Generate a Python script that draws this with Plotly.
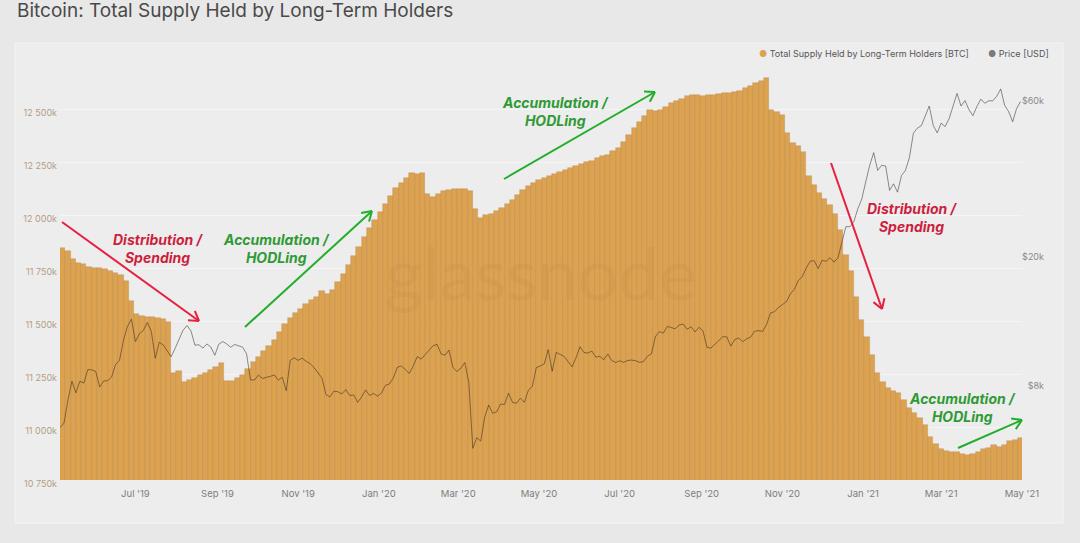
import math
import pandas as pd
import plotly.graph_objects as go

# ---------------- data ----------------
# Long-term holder supply, in thousands of BTC, one value every 4 days from 2019-05-07
lth_start = "2019-05-07"
lth = [11844, 11830, 11792, 11774, 11767, 11757, 11752, 11748, 11743, 11736,
       11726, 11719, 11689, 11594, 11531, 11524, 11519, 11517, 11514, 11509,
       11495, 11255, 11264, 11212, 11222, 11231, 11243, 11255, 11269, 11285,
       11302, 11215, 11219, 11229, 11245, 11274, 11307, 11330, 11358, 11382,
       11410, 11448, 11486, 11514, 11538, 11557, 11580, 11597, 11613, 11642,
       11627, 11646, 11684, 11722, 11764, 11807, 11849, 11896, 11939, 11976,
       12014, 12052, 12090, 12127, 12151, 12175, 12200, 12193, 12198, 12100,
       12085, 12099, 12113, 12120, 12125, 12125, 12123, 12113, 12028, 11988,
       12000, 12007, 12019, 12033, 12052, 12071, 12094, 12118, 12137, 12151,
       12165, 12175, 12184, 12193, 12203, 12212, 12222, 12231, 12241, 12248,
       12257, 12267, 12276, 12285, 12300, 12314, 12344, 12377, 12410, 12439,
       12467, 12493, 12491, 12495, 12509, 12526, 12538, 12547, 12559, 12568,
       12566, 12559, 12564, 12566, 12571, 12575, 12575, 12578, 12583, 12597,
       12608, 12623, 12634, 12646, 12493, 12486, 12472, 12387, 12340, 12325,
       12297, 12184, 12142, 12104, 12075, 12047, 12005, 11929, 11811, 11736,
       11613, 11505, 11425, 11340, 11255, 11212, 11186, 11172, 11160, 11127,
       11090, 11066, 11042, 11009, 10953, 10920, 10894, 10887, 10884, 10880,
       10875, 10870, 10875, 10884, 10894, 10903, 10913, 10908, 10915, 10932,
       10941, 10950]

# BTC price in USD, one value every 3 days from 2019-05-05
price_start = "2019-05-05"
price = [
    5750, 5940, 6990, 7990, 7360, 7990, 7880, 8670, 8660,                      # May 19
    8560, 7670, 8000, 8020, 8230, 8990, 9270, 10700, 11780, 12400,             # Jun 19
    10580, 11180, 11450, 12100, 11380, 9400, 10530, 10330, 9870, 9500, 10080,  # Jul 19
    10820, 11460, 11850, 11400, 10310, 10340, 10100, 10400, 10170, 9600,       # Aug 19
    10380, 10580, 10400, 10160, 10360, 10260, 10170, 9700, 8060, 8060,         # Sep 19
    8340, 8150, 8200, 8270, 8350, 8050, 8220, 7470, 9260, 9430,                # Oct 19
    9260, 9410, 9200, 9050, 8800, 8500, 8170, 7270, 7150, 7450,                # Nov 19
    7420, 7300, 7530, 7220, 7250, 6880, 7150, 7510, 7220, 7330, 7190,          # Dec 19
    7350, 7770, 7830, 8190, 8820, 8900, 8680, 8440, 8900, 9510,                # Jan 20
    9340, 9620, 9900, 10270, 10370, 9700, 9600, 9960, 8800, 8560,              # Feb 20
    8760, 9120, 7900, 4970, 5360, 5230, 6200, 6750, 6370, 6430,                # Mar 20
    6800, 6780, 7340, 6880, 6840, 7090, 6880, 7500, 7700, 8800,                # Apr 20
    8900, 9030, 9990, 8570, 9800, 9670, 9520, 9180, 8840, 9430,                # May 20
    10200, 9790, 9750, 9890, 9470, 9530, 9300, 9690, 9250, 9120,               # Jun 20
    9230, 9130, 9250, 9280, 9240, 9130, 9180, 9540, 9700, 10950, 11350,        # Jul 20
    11230, 11770, 11680, 11580, 11900, 11970, 11540, 11750, 11320, 11700,      # Aug 20
    11400, 10150, 10100, 10380, 10680, 10950, 10930, 10240, 10730, 10840,      # Sep 20
    10570, 10780, 10920, 11380, 11430, 11360, 11920, 12950, 13060, 13460,      # Oct 20
    13740, 14030, 14820, 15310, 16300, 16720, 17800, 18680, 18750, 17730,      # Nov 20
    18790, 18660, 19150, 18550, 19140, 21300, 23850, 23840, 24710, 27080, 28990,  # Dec 20
    32780, 36820, 40260, 35500, 36800, 36630, 30830, 32290, 30430, 34260,      # Jan 21
    35510, 38900, 46200, 47900, 48700, 52100, 56000, 48800, 46300,             # Feb 21
    49600, 48400, 51200, 56000, 61200, 56000, 58200, 54500, 52300, 55800, 58800,  # Mar 21
    57100, 58100, 58100, 60000, 63200, 56200, 53800, 50100, 55000, 57800,      # Apr 21
]

x_tick_dates = ["2019-07-01", "2019-09-01", "2019-11-01", "2020-01-01", "2020-03-01",
                "2020-05-01", "2020-07-01", "2020-09-01", "2020-11-01", "2021-01-01",
                "2021-03-01", "2021-05-01"]
x_tick_labels = ["Jul '19", "Sep '19", "Nov '19", "Jan '20", "Mar '20", "May '20",
                 "Jul '20", "Sep '20", "Nov '20", "Jan '21", "Mar '21", "May '21"]
lth_ticks = [10750, 11000, 11250, 11500, 11750, 12000, 12250, 12500, 12750]
lth_tick_labels = ["10 750k", "11 000k", "11 250k", "11 500k", "11 750k",
                   "12 000k", "12 250k", "12 500k", ""]
price_ticks = [4000, 8000, 20000, 60000]
price_tick_labels = ["$4k", "$8k", "$20k", "$60k"]

# ---------------- geometry helpers (pixel -> paper) ----------------
W, H = 1080, 543
ML, MR, MT, MB = 60, 33, 56, 63
PW = W - ML - MR
PH = H - MT - MB
PLOT_RIGHT = 1022


def px(x):
    return (x - ML) / PW


def py(y):
    return (H - MB - y) / PH


BAR = "#dca250"
RED_T = "#cc1f3d"
RED_A = "#e6203e"
GRN_T = "#2f9a35"
GRN_A = "#22ad2a"

lth_dates = pd.date_range(lth_start, periods=len(lth), freq="4D")
price_dates = pd.date_range(price_start, periods=len(price), freq="3D")

fig = go.Figure()
fig.add_trace(go.Bar(
    x=lth_dates, y=lth, width=4 * 86400000,
    marker=dict(color=BAR, line=dict(color="rgba(150,95,35,0.3)", width=0.7)),
    name="Total Supply Held by Long-Term Holders [BTC]", yaxis="y", showlegend=False,
))
fig.add_trace(go.Scatter(
    x=price_dates, y=price, mode="lines",
    line=dict(color="rgba(40,32,24,0.5)", width=1.0),
    name="Price [USD]", yaxis="y2", showlegend=False,
))

shapes = []
# panel
shapes.append(dict(type="rect", xref="paper", yref="paper",
                   x0=px(15), x1=px(1063), y0=py(523), y1=py(43),
                   fillcolor="#ededed", line=dict(color="#f4f4f4", width=1), layer="below"))


def arrow(x0, y0, x1, y1, color, head=11, ang=32):
    out = [dict(type="line", xref="paper", yref="paper",
                x0=px(x0), y0=py(y0), x1=px(x1), y1=py(y1),
                line=dict(color=color, width=2))]
    dx, dy = x1 - x0, y1 - y0
    n = math.hypot(dx, dy)
    ux, uy = dx / n, dy / n
    for s in (1, -1):
        a = math.radians(ang) * s
        rx = ux * math.cos(a) - uy * math.sin(a)
        ry = ux * math.sin(a) + uy * math.cos(a)
        out.append(dict(type="line", xref="paper", yref="paper",
                        x0=px(x1), y0=py(y1), x1=px(x1 - head * rx), y1=py(y1 - head * ry),
                        line=dict(color=color, width=2)))
    return out


shapes += arrow(62, 222, 199, 321, RED_A)
shapes += arrow(245, 327, 372, 211, GRN_A)
shapes += arrow(504, 179, 655, 92, GRN_A)
shapes += arrow(831, 163, 882, 309, RED_A)
shapes += arrow(958, 448, 1022, 420, GRN_A)

annotations = []


def note(text, x, y, color):
    annotations.append(dict(text=text, xref="paper", yref="paper", x=px(x), y=py(y),
                            xanchor="center", yanchor="middle", showarrow=False, align="center",
                            font=dict(family="Inter", size=14, color=color,
                                      weight="bold", style="italic")))


note("Distribution /<br>Spending", 158, 248, RED_T)
note("Accumulation /<br>HODLing", 276, 248, GRN_T)
note("Accumulation /<br>HODLing", 555, 111, GRN_T)
note("Distribution /<br>Spending", 912, 217, RED_T)
note("Accumulation /<br>HODLing", 962, 407, GRN_T)

# watermark
annotations.append(dict(text="glassnode", xref="paper", yref="paper", x=px(541), y=py(272),
                        xanchor="center", yanchor="middle", showarrow=False,
                        font=dict(family="Lato", size=72, color="rgba(170,110,40,0.09)")))
# title
annotations.append(dict(text="Bitcoin: Total Supply Held by Long-Term Holders",
                        xref="paper", yref="paper", x=px(15), y=py(10),
                        xanchor="left", yanchor="middle", showarrow=False,
                        font=dict(family="Inter", size=19, color="#4a4a4a")))
# legend
annotations.append(dict(text=f"<span style='color:{BAR}'>●</span> Total Supply Held by Long-Term Holders [BTC]",
                        xref="paper", yref="paper", x=px(971), y=py(54),
                        xanchor="right", yanchor="middle", showarrow=False,
                        font=dict(family="Inter", size=9, color="#555555")))
annotations.append(dict(text="<span style='color:#7a7a7a'>●</span> Price [USD]",
                        xref="paper", yref="paper", x=px(986), y=py(54),
                        xanchor="left", yanchor="middle", showarrow=False,
                        font=dict(family="Inter", size=9, color="#555555")))

fig.update_layout(
    width=W, height=H,
    margin=dict(l=ML, r=MR, t=MT, b=MB),
    paper_bgcolor="#e8e8e8", plot_bgcolor="rgba(0,0,0,0)",
    bargap=0, showlegend=False,
    font=dict(family="Inter"),
    xaxis=dict(domain=[0, (PLOT_RIGHT - ML) / PW],
               range=["2019-05-05", "2021-05-01 02:00"],
               tickvals=x_tick_dates, ticktext=x_tick_labels,
               showgrid=False, zeroline=False, showline=False, ticks="",
               tickfont=dict(family="Inter", size=9.5, color="#7d7d7d"),
               ticklabelstandoff=6),
    yaxis=dict(range=[10750, 12750], tickvals=lth_ticks, ticktext=lth_tick_labels,
               showgrid=True, gridcolor="#f5f5f5", gridwidth=1, zeroline=False,
               showline=False, ticks="", ticklabelshift=4, ticklabelstandoff=2,
               tickfont=dict(family="Inter", size=9, color="#b39e86")),
    yaxis2=dict(type="log", range=[3.5990, 4.9018], overlaying="y", side="right",
                anchor="free", position=1.0, ticklabelposition="inside",
                tickvals=price_ticks, ticktext=price_tick_labels,
                showgrid=False, zeroline=False, showline=False, ticks="",
                ticklabelshift=5,
                tickfont=dict(family="Inter", size=9, color="#8a8a8a")),
    shapes=shapes, annotations=annotations,
)

fig.write_html(
    "out.html",
    config={"displayModeBar": False},
    post_script="document.documentElement.style.margin='0';document.body.style.margin='0';"
                "document.body.style.padding='0';document.body.style.overflow='hidden';"
                "document.body.style.background='#e8e8e8';",
)
